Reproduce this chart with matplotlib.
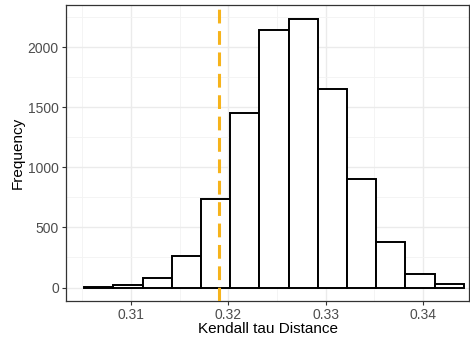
import matplotlib
matplotlib.use("Agg")
import matplotlib.pyplot as plt
import numpy as np

plt.rcParams['font.family'] = ['Liberation Sans', 'DejaVu Sans']

# histogram bins (left edges) and counts
bin_left = [0.3052, 0.3082, 0.3112, 0.3142, 0.3172, 0.3202, 0.3232,
            0.3262, 0.3292, 0.3322, 0.3352, 0.3382, 0.3412]
bin_width = 0.003
counts = [5, 19, 83, 262, 735, 1453, 2144, 2235, 1650, 904, 376, 113, 30]
observed = 0.3190

x_ticks = [0.31, 0.32, 0.33, 0.34]
x_labels = ['0.31', '0.32', '0.33', '0.34']
y_ticks = [0, 500, 1000, 1500, 2000]

fig = plt.figure(figsize=(4.7, 3.38), dpi=100)
ax = fig.add_axes([0.1398, 0.1095, 0.9985 - 0.1398, 0.9843 - 0.1095])

ax.bar(bin_left, counts, width=bin_width, align='edge', color='white',
       edgecolor='black', linewidth=1.4, zorder=2)
ax.axvline(observed, color='#F6B31B', linewidth=2.2, dashes=(4.5, 2.5), zorder=3)

ax.set_xlim(0.3033, 0.34476)
ax.set_ylim(-112, 2347)

ax.set_xticks(x_ticks)
ax.set_xticklabels(x_labels)
ax.set_xticks([0.305, 0.315, 0.325, 0.335], minor=True)
ax.set_yticks(y_ticks)
ax.set_yticks([250, 750, 1250, 1750, 2250], minor=True)

ax.grid(True, which='major', color='#EBEBEB', linewidth=1.0, zorder=0)
ax.grid(True, which='minor', color='#F3F3F3', linewidth=0.6, zorder=0)
ax.set_axisbelow(True)

ax.tick_params(which='major', length=3, width=0.8, color='#333333',
               labelsize=10, labelcolor='#4D4D4D', pad=2)
ax.tick_params(which='minor', length=0)
for s in ax.spines.values():
    s.set_color('#333333')
    s.set_linewidth(0.9)

ax.set_xlabel('Kendall tau Distance', fontsize=11, labelpad=0)
ax.set_ylabel('Frequency', fontsize=11, labelpad=2)

fig.savefig('out.png', dpi=100)
